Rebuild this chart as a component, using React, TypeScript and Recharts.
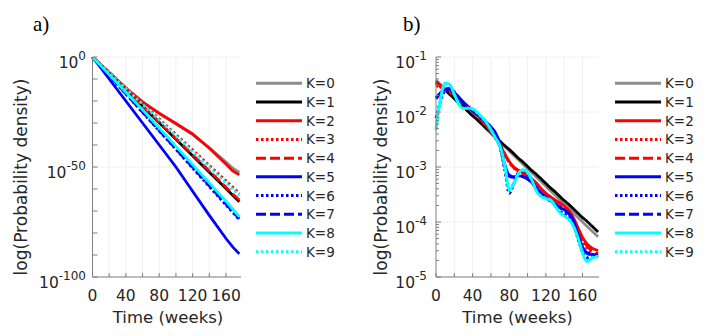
import React from 'react';
import { LineChart, Line, XAxis, YAxis, CartesianGrid, Legend, Customized } from 'recharts';

const FONT = '"DejaVu Sans", "Liberation Sans", sans-serif';
const TEXT = '#262626';
const AXIS = '#808080';
const GRID = '#f0f0f0';

// ---------- series styling ----------
const seriesNames = ['K=0', 'K=1', 'K=2', 'K=3', 'K=4', 'K=5', 'K=6', 'K=7', 'K=8', 'K=9'];
const seriesColors = ['#8c8c8c', '#000000', '#ff0000', '#ff0000', '#ff0000', '#0000ff', '#0000ff', '#0000ff', '#00ffff', '#00ffff'];
const seriesDashes = ['', '', '', '2.5 2.5', '10 4', '', '2.5 2.5', '10 4', '', '2.5 2.5'];

// ---------- panel a: log10(probability density) ----------
const timeA = [0, 20, 40, 60, 80, 100, 120, 140, 160, 168, 176];
const aK0 = [0, -7, -14, -20.3, -25.8, -30.4, -35.3, -41.2, -47.8, -50.5, -52.5];
const aK1 = [0, -7.5, -15, -22.4, -29.9, -37.4, -44.9, -52.4, -59.8, -62.8, -65.8];
const aK2 = [0, -7.2, -14.3, -20.5, -25.5, -30.2, -35, -41.5, -48.6, -51.8, -53.6];
const aK3 = [0, -7, -14, -21, -28.2, -35.2, -42.2, -49.3, -56.3, -59.1, -62];
const aK4 = [0, -7.4, -14.8, -22.2, -29.6, -37, -44.4, -51.8, -59.2, -62.2, -65];
const aK5 = [0, -10, -20, -30, -40, -50, -61, -72, -82.5, -86.3, -89.5];
const aK6 = [0, -8.4, -16.8, -25.2, -33.6, -42, -50.5, -58.9, -67.3, -70.6, -74];
const aK7 = [0, -8.3, -16.7, -25, -33.4, -41.8, -50.1, -58.5, -66.8, -70.2, -73.5];
const aK8 = [0, -8, -16, -24, -32.3, -40.6, -48.9, -57.2, -65.6, -69.1, -72.6];
const aK9 = [0, -7.2, -14.3, -21.5, -28.6, -35.8, -43, -50.1, -57.3, -60.1, -63];

// ---------- panel b: log10(probability density) ----------
const timeB = [0, 5, 10, 15, 20, 25, 30, 35, 40, 45, 50, 55, 60, 65, 70, 75, 80, 85, 90, 95, 100, 105, 110, 115, 120, 125, 130, 135, 140, 145, 150, 155, 160, 165, 170, 177];
const bK0 = [-1.42, -1.50, -1.58, -1.66, -1.74, -1.82, -1.90, -1.98, -2.06, -2.14, -2.22, -2.31, -2.39, -2.47, -2.55, -2.63, -2.71, -2.79, -2.87, -2.95, -3.03, -3.11, -3.19, -3.27, -3.35, -3.43, -3.51, -3.59, -3.67, -3.75, -3.83, -3.92, -4.00, -4.08, -4.16, -4.27];
const bK1 = [-1.45, -1.53, -1.60, -1.68, -1.76, -1.84, -1.91, -1.99, -2.07, -2.14, -2.22, -2.30, -2.37, -2.45, -2.53, -2.61, -2.68, -2.76, -2.84, -2.91, -2.99, -3.07, -3.14, -3.22, -3.30, -3.38, -3.45, -3.53, -3.61, -3.68, -3.76, -3.84, -3.92, -3.99, -4.07, -4.18];
const bK2 = [-1.48, -1.54, -1.58, -1.62, -1.66, -1.74, -1.82, -1.90, -1.97, -2.05, -2.14, -2.24, -2.34, -2.46, -2.60, -2.76, -2.90, -3.00, -3.06, -3.10, -3.15, -3.22, -3.30, -3.40, -3.48, -3.54, -3.60, -3.65, -3.71, -3.79, -3.92, -4.10, -4.28, -4.40, -4.47, -4.52];
const bK3 = [-1.52, -1.55, -1.60, -1.65, -1.70, -1.76, -1.83, -1.90, -1.98, -2.06, -2.15, -2.25, -2.36, -2.48, -2.62, -2.78, -2.92, -3.02, -3.08, -3.12, -3.17, -3.24, -3.32, -3.41, -3.49, -3.55, -3.61, -3.67, -3.74, -3.84, -3.98, -4.16, -4.34, -4.48, -4.57, -4.64];
const bK4 = [-1.46, -1.52, -1.57, -1.61, -1.67, -1.75, -1.83, -1.91, -1.99, -2.07, -2.16, -2.26, -2.36, -2.47, -2.61, -2.77, -2.91, -3.01, -3.07, -3.11, -3.16, -3.23, -3.31, -3.40, -3.49, -3.55, -3.61, -3.66, -3.72, -3.81, -3.95, -4.13, -4.31, -4.44, -4.52, -4.58];
const bK5 = [-1.76, -1.66, -1.59, -1.58, -1.64, -1.74, -1.84, -1.91, -1.98, -2.05, -2.12, -2.19, -2.27, -2.38, -2.58, -2.95, -3.15, -3.18, -3.16, -3.17, -3.21, -3.29, -3.39, -3.48, -3.55, -3.61, -3.67, -3.73, -3.78, -3.84, -3.97, -4.22, -4.45, -4.56, -4.59, -4.60];
const bK6 = [-2.11, -1.80, -1.62, -1.60, -1.70, -1.85, -1.93, -1.94, -1.96, -2.03, -2.10, -2.20, -2.32, -2.46, -2.65, -3.05, -3.48, -3.30, -3.10, -3.06, -3.12, -3.25, -3.42, -3.50, -3.55, -3.60, -3.70, -3.80, -3.85, -3.90, -4.05, -4.30, -4.55, -4.65, -4.62, -4.60];
const bK7 = [-1.74, -1.65, -1.58, -1.57, -1.63, -1.73, -1.83, -1.90, -1.97, -2.04, -2.11, -2.19, -2.28, -2.40, -2.60, -2.98, -3.17, -3.19, -3.17, -3.18, -3.22, -3.30, -3.40, -3.49, -3.56, -3.62, -3.68, -3.74, -3.79, -3.85, -3.99, -4.24, -4.47, -4.57, -4.60, -4.61];
const bK8 = [-2.33, -1.75, -1.47, -1.50, -1.68, -1.86, -1.94, -1.93, -1.94, -2.01, -2.09, -2.19, -2.32, -2.47, -2.62, -2.95, -3.42, -3.30, -3.12, -3.05, -3.10, -3.25, -3.45, -3.54, -3.57, -3.60, -3.70, -3.82, -3.89, -3.95, -4.07, -4.28, -4.55, -4.72, -4.66, -4.63];
const bK9 = [-2.30, -1.78, -1.50, -1.52, -1.68, -1.85, -1.93, -1.93, -1.95, -2.02, -2.10, -2.20, -2.33, -2.48, -2.64, -2.97, -3.40, -3.28, -3.11, -3.06, -3.11, -3.26, -3.44, -3.53, -3.57, -3.61, -3.71, -3.82, -3.89, -3.96, -4.08, -4.30, -4.58, -4.70, -4.65, -4.62];

// ---------- ticks ----------
const xTickValues = [0, 20, 40, 60, 80, 100, 120, 140, 160];
const xLabelValues = [0, 40, 80, 120, 160];
const yTickValuesA = [0, -10, -20, -30, -40, -50, -60, -70, -80, -90, -100];
const yLabelValuesA = [0, -50, -100];
const yMajorB = [-1, -2, -3, -4, -5];
const yMinorFactorsB = [2, 3, 4, 5, 6, 7, 8, 9];

const seriesA = [aK0, aK1, aK2, aK3, aK4, aK5, aK6, aK7, aK8, aK9];
const seriesB = [bK0, bK1, bK2, bK3, bK4, bK5, bK6, bK7, bK8, bK9];

function buildRows(times: number[], series: number[][]) {
  return times.map((t, i) => {
    const r: any = { t };
    series.forEach((s, k) => {
      r['K' + k] = s[i];
    });
    return r;
  });
}

const rowsA = buildRows(timeA, seriesA);
const rowsB = buildRows(timeB, seriesB);

const yTickValuesB: number[] = [...yMajorB];
yMajorB.slice(1).forEach((k) => {
  yMinorFactorsB.forEach((m) => yTickValuesB.push(k + Math.log10(m)));
});
yTickValuesB.sort((a, b) => b - a);

const isInt = (v: number) => Math.abs(v - Math.round(v)) < 1e-9;

function XTick(props: any) {
  const { x, y, payload } = props;
  const v = payload.value;
  return (
    <g>
      <line x1={x} x2={x} y1={y} y2={y - 4} stroke={AXIS} strokeWidth={1} />
      {xLabelValues.includes(v) && (
        <text x={x} y={y + 24} textAnchor="middle" fontSize={15.5} fontFamily={FONT} fill={TEXT}>
          {v}
        </text>
      )}
    </g>
  );
}

function makeYTick(isLabel: (v: number) => boolean, isMajor: (v: number) => boolean, gap: number) {
  return (props: any) => {
    const { x, y, payload } = props;
    const v = payload.value;
    const len = isMajor(v) ? 5 : 3;
    const exp = Math.round(v);
    return (
      <g>
        <line x1={x} x2={x + len} y1={y} y2={y} stroke={AXIS} strokeWidth={1} />
        {isLabel(v) && (
          <text x={x - gap} y={y + 11} textAnchor="end" fontFamily={FONT} fill={TEXT}>
            <tspan fontSize={15.5}>10</tspan>
            <tspan fontSize={12} dy={-8}>{String(exp === 0 ? 0 : exp)}</tspan>
          </text>
        )}
      </g>
    );
  };
}

const YTickA = makeYTick((v) => yLabelValuesA.includes(v), () => true, 6.5);
const YTickB = makeYTick((v) => isInt(v), (v) => isInt(v), 9);

function LegendContent() {
  return (
    <svg width={110} height={190} style={{ display: 'block' }}>
      {seriesNames.map((n, i) => {
        const cy = 9.35 + 18.7 * i;
        return (
          <g key={n}>
            <line
              x1={0}
              x2={46}
              y1={cy}
              y2={cy}
              stroke={seriesColors[i]}
              strokeWidth={3}
              strokeDasharray={seriesDashes[i] || undefined}
            />
            <text x={50} y={cy + 5} fontSize={13.5} fontFamily={FONT} fill={TEXT}>
              {n}
            </text>
          </g>
        );
      })}
    </svg>
  );
}

type PanelProps = {
  rows: any[];
  width: number;
  margin: { top: number; right: number; bottom: number; left: number };
  yDomain: [number, number];
  yTicks: number[];
  yGrid: number[];
  YTick: any;
  curve: 'linear' | 'monotone';
  legendLeft: number;
  letter: string;
  letterX: number;
  yLabelX: number;
  xLabelX: number;
};

function Panel(p: PanelProps) {
  return (
    <LineChart width={p.width} height={336} data={p.rows} margin={p.margin}>
      <CartesianGrid
        stroke={GRID}
        strokeWidth={1}
        verticalValues={xTickValues.slice(1)}
        horizontalValues={p.yGrid}
      />
      <XAxis
        dataKey="t"
        type="number"
        domain={[0, 178]}
        ticks={xTickValues}
        interval={0}
        tickSize={0}
        tickMargin={0}
        tickLine={false}
        tick={<XTick />}
        axisLine={{ stroke: AXIS, strokeWidth: 1 }}
        height={30}
      />
      <YAxis
        type="number"
        domain={p.yDomain}
        ticks={p.yTicks}
        interval={0}
        tickSize={0}
        tickMargin={0}
        tickLine={false}
        tick={<p.YTick />}
        axisLine={{ stroke: AXIS, strokeWidth: 1 }}
        width={60}
        allowDataOverflow
      />
      {seriesNames.map((n, i) => (
        <Line
          key={n}
          name={n}
          dataKey={'K' + i}
          type={p.curve}
          stroke={seriesColors[i]}
          strokeWidth={2.8}
          strokeDasharray={seriesDashes[i] || undefined}
          dot={false}
          activeDot={false}
          isAnimationActive={false}
        />
      ))}
      <Legend
        layout="vertical"
        align="center"
        verticalAlign="middle"
        wrapperStyle={{ left: p.legendLeft, top: 74, width: 110, height: 190 }}
        content={() => <LegendContent />}
      />
      <Customized
        component={() => (
          <g>
            <text x={p.letterX} y={31} fontSize={21} fontFamily='"Liberation Serif", "DejaVu Serif", serif' fill="#000">
              {p.letter}
            </text>
            <text
              x={p.yLabelX}
              y={177}
              transform={`rotate(-90 ${p.yLabelX} 177)`}
              textAnchor="middle"
              dominantBaseline="central"
              fontSize={17}
              fontFamily={FONT}
              fill={TEXT}
            >
              log(Probability density)
            </text>
            <text x={p.xLabelX} y={323} textAnchor="middle" fontSize={16.5} fontFamily={FONT} fill={TEXT}>
              Time (weeks)
            </text>
          </g>
        )}
      />
    </LineChart>
  );
}

export default function App() {
  return (
    <div style={{ position: 'absolute', left: 0, top: 0, width: 709, height: 336, background: '#ffffff', overflow: 'hidden' }}>
      <div style={{ position: 'absolute', left: 0, top: 0 }}>
        <Panel
          rows={rowsA}
          width={360}
          margin={{ top: 57, right: 119, bottom: 29, left: 32.5 }}
          yDomain={[-100, 0]}
          yTicks={yTickValuesA}
          yGrid={yLabelValuesA}
          YTick={YTickA}
          curve="linear"
          legendLeft={256}
          letter="a)"
          letterX={33}
          yLabelX={21}
          xLabelX={168}
        />
      </div>
      <div style={{ position: 'absolute', left: 350, top: 0 }}>
        <Panel
          rows={rowsB}
          width={359}
          margin={{ top: 57, right: 110, bottom: 29, left: 26 }}
          yDomain={[-5, -1]}
          yTicks={yTickValuesB}
          yGrid={yMajorB}
          YTick={YTickB}
          curve="monotone"
          legendLeft={265}
          letter="b)"
          letterX={53}
          yLabelX={31}
          xLabelX={167.5}
        />
      </div>
    </div>
  );
}
